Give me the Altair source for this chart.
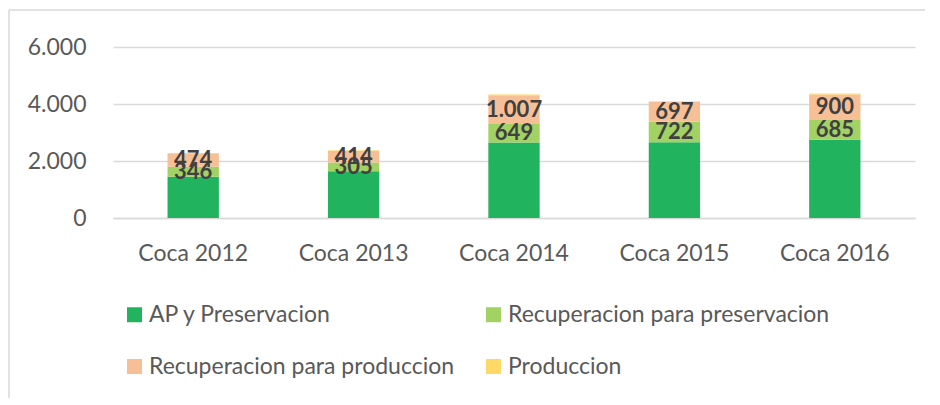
import altair as alt
import pandas as pd

years = ["Coca 2012", "Coca 2013", "Coca 2014", "Coca 2015", "Coca 2016"]
series = ["AP y Preservacion", "Recuperacion para preservacion",
          "Recuperacion para produccion", "Produccion"]
ap_preservacion = [1450, 1640, 2650, 2660, 2750]
rec_preservacion = [346, 305, 649, 722, 685]
rec_produccion = [474, 414, 1007, 697, 900]
produccion = [15, 15, 30, 20, 30]
labels_rec_pres = ["346", "305", "649", "722", "685"]
labels_rec_prod = ["474", "414", "1.007", "697", "900"]
colors = ["#22B35E", "#A2D164", "#F7BF95", "#FFD966"]

rows = []
for i, yr in enumerate(years):
    vals = [ap_preservacion[i], rec_preservacion[i], rec_produccion[i], produccion[i]]
    labs = ["", labels_rec_pres[i], labels_rec_prod[i], ""]
    for k, s in enumerate(series):
        rows.append({"year": yr, "series": s, "value": vals[k], "order": k, "label": labs[k]})
df = pd.DataFrame(rows)

FONT = "Lato"
FS = 23
base = alt.Chart(df).transform_stack(
    stack="value", groupby=["year"], as_=["v0", "v1"],
    sort=[alt.SortField("order", order="ascending")]
).transform_calculate(mid="(datum.v0 + datum.v1) / 2")

x_enc = alt.X("year:N", sort=years, title=None,
              scale=alt.Scale(paddingInner=0.68, paddingOuter=0.34),
              axis=alt.Axis(labelAngle=0, ticks=False, domainColor="#d9d9d9", domainWidth=1.5,
                            labelPadding=24, labelFontSize=FS, labelColor="#595959",
                            labelFont=FONT, grid=False))

bars = base.mark_bar().encode(
    x=x_enc,
    y=alt.Y("v0:Q", title=None, scale=alt.Scale(domain=[0, 6000]),
            axis=alt.Axis(values=[0, 2000, 4000, 6000], domain=False, ticks=False,
                          labelPadding=27, labelFontSize=FS, labelColor="#595959",
                          labelFont=FONT, gridColor="#d9d9d9", gridWidth=1.5,
                          labelExpr="replace(format(datum.value, ','), ',', '.')")),
    y2="v1:Q",
    color=alt.Color("series:N", scale=alt.Scale(domain=series, range=colors),
                    legend=alt.Legend(title=None, orient="none", legendX=10, legendY=256,
                                      columns=2, direction="horizontal",
                                      symbolType="square", symbolSize=225,
                                      symbolStrokeWidth=0, labelFontSize=FS, labelFont=FONT,
                                      labelColor="#595959", columnPadding=27, rowPadding=28,
                                      labelOffset=3, labelLimit=500)),
)

text = base.transform_filter("datum.label != ''").mark_text(
    fontSize=22, fontWeight="bold", color="#404040", font=FONT, baseline="middle"
).encode(x=alt.X("year:N", sort=years), y=alt.Y("mid:Q"), text="label:N")

border = alt.Chart(pd.DataFrame({"a": [0]})).mark_rule(color="#d9d9d9", strokeWidth=1.5).encode(
    x=alt.value(-104), y=alt.value(-37), y2=alt.value(400))
border2 = alt.Chart(pd.DataFrame({"a": [0]})).mark_rule(color="#d9d9d9", strokeWidth=1.5).encode(
    x=alt.value(-104), x2=alt.value(830), y=alt.value(-37))

chart = alt.layer(bars, text, border, border2).properties(
    width=802, height=171,
    padding={"left": 105, "top": 39, "right": 10, "bottom": 180},
    autosize="none",
).configure_view(stroke=None)

chart.save("out.html", embed_options={"renderer": "svg", "actions": False})
